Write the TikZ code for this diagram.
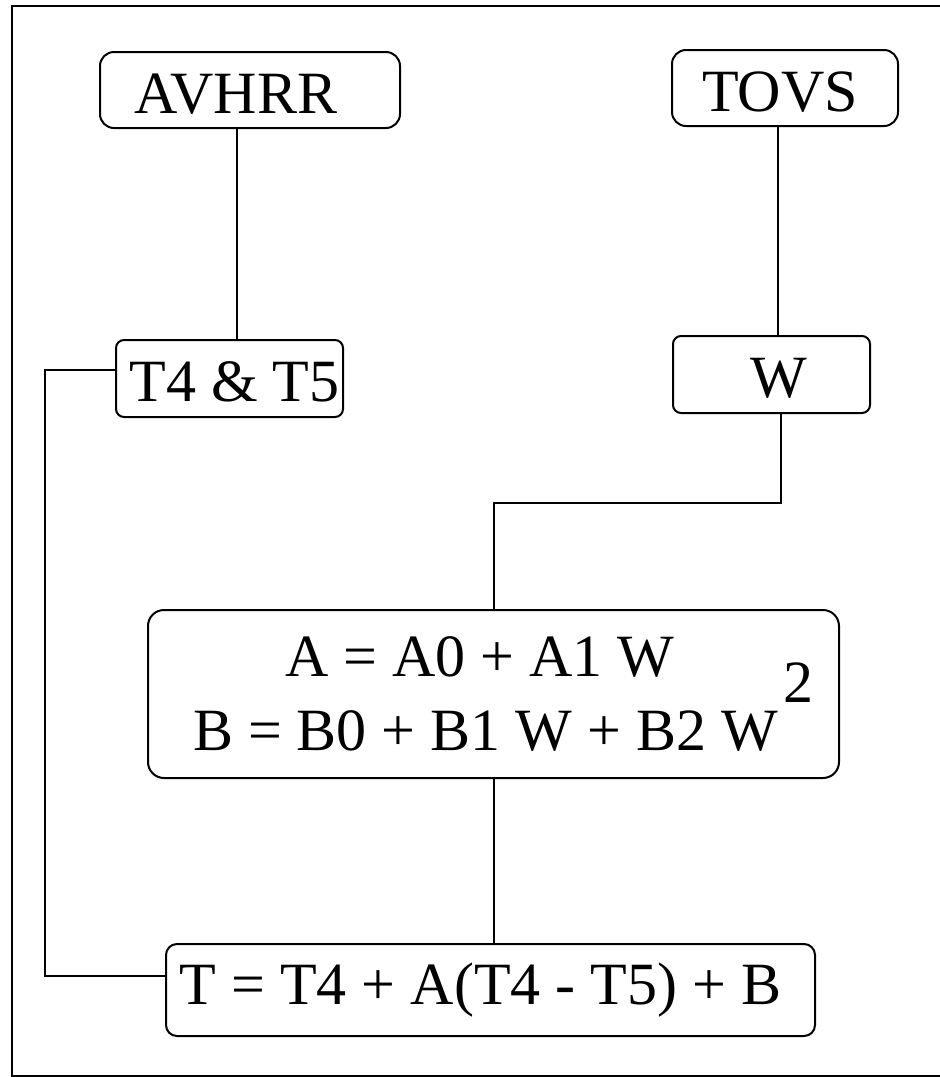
\documentclass[tikz,border=0pt]{standalone}
\usepackage{fontspec}
\setmainfont{Liberation Serif}
\begin{document}
\begin{tikzpicture}[x=1pt,y=-1pt,
  box/.style={draw, line width=2pt, inner sep=0pt, font=\fontsize{60pt}{74pt}\selectfont},
  smallbox/.style={box, text height=50pt, text depth=4pt},
  conn/.style={line width=2pt}]
\useasboundingbox (0,0) rectangle (940,1077);
% outer frame (open on the right)
\draw[line width=2.2pt] (940,6) -- (12,6) -- (12,1076) -- (940,1076);
% boxes
\node[smallbox, rounded corners=14pt, minimum width=300pt, minimum height=76pt] (avhrr) at (250,90) {AVHRR\hspace*{28pt}};
\node[smallbox, rounded corners=14pt, minimum width=226pt, minimum height=76pt] (tovs) at (785,88) {TOVS\hspace*{10pt}};
\node[smallbox, rounded corners=8pt, minimum width=227pt, minimum height=77pt] (t45) at (229.5,378.5) {\hspace*{10pt}T4 \& T5};
\node[smallbox, rounded corners=8pt, minimum width=197pt, minimum height=77pt] (w) at (771.5,374.5) {\hspace*{14pt}W};
\node[box, rounded corners=16pt, align=left, minimum width=691pt, minimum height=168pt] (form) at (493.5,694)
  {\hspace*{112pt}A = A0 + A1 W\\
   \hspace*{20pt}B = B0 + B1 W + B2 W\hspace{6pt}\smash{\raisebox{48pt}{2}}};
\node[box, rounded corners=11pt, minimum width=649pt, minimum height=92pt] (tf) at (490.5,990) {T = T4 + A(T4 - T5) + B\hspace*{20pt}};
% connectors
\coordinate (lft) at (45,0);
\coordinate (bend) at (0,503);
\draw[conn] ([xshift=-13pt]avhrr.south) -- ([xshift=-13pt]avhrr.south |- t45.north);
\draw[conn] ([xshift=-7pt]tovs.south) -- ([xshift=-7pt]tovs.south |- w.north);
\draw[conn] ([xshift=9.5pt]w.south) |- (bend -| form.north) -- (form.north);
\draw[conn] (form.south) -- (form.south |- tf.north);
\draw[conn] ([yshift=8.5pt]t45.west) -- ([yshift=8.5pt]t45.west -| lft) |- ([yshift=14pt]tf.west);
\end{tikzpicture}
\end{document}
